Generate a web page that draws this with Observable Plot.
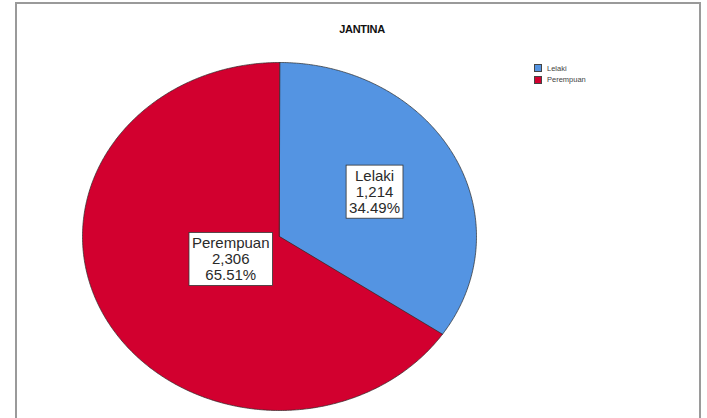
<!DOCTYPE html>
<html>
<head>
<meta charset="utf-8">
<script src="https://cdn.jsdelivr.net/npm/d3@7"></script>
<script src="https://cdn.jsdelivr.net/npm/@observablehq/plot@0.6"></script>
<style>
  html, body { margin: 0; padding: 0; background: #fff; }
  #wrap { position: relative; width: 707px; height: 418px; overflow: hidden; font-family: "Liberation Sans", Arial, sans-serif; }
  #frame { position: absolute; left: 15px; top: 2px; width: 686px; height: 430px; border: 2px solid #9a9a9a; border-bottom: none; box-sizing: border-box; }
  #title { position: absolute; left: 0; width: 724px; top: 23px; text-align: center; font-weight: bold; font-size: 11px; letter-spacing: -0.3px; color: #111; }
  #legend { position: absolute; left: 534px; top: 63px; font-size: 7.5px; color: #444; }
  #legend div { display: flex; align-items: center; height: 10px; margin-bottom: 1.5px; }
  #legend span.sw { display: inline-block; width: 8px; height: 8px; box-sizing: border-box; border: 0.6px solid #444; margin-right: 5px; }
  #chart { position: absolute; left: 0; top: 0; }
</style>
</head>
<body>
<div id="wrap">
  <div id="frame"></div>
  <div id="chart"></div>
  <div id="title"></div>
  <div id="legend"></div>
</div>
<script>
const title = "JANTINA";
const categories = ["Lelaki", "Perempuan"];
const counts = [1214, 2306];
const percents = ["34.49%", "65.51%"];
const colors = ["#5494e2", "#d2002f"];

const pie = d3.pie().sort(null).value(d => d.count);
const arcs = pie(categories.map((c, i) => ({category: c, count: counts[i], pct: percents[i]})));

// slice outlines in unit coordinates (x = sin a, y = cos a; clockwise from top)
const slicePts = [];
for (const a of arcs) {
  const c = a.data.category;
  slicePts.push({category: c, x: 0, y: 0});
  const n = Math.max(2, Math.ceil((a.endAngle - a.startAngle) / (Math.PI / 360)));
  for (let k = 0; k <= n; k++) {
    const t = a.startAngle + (a.endAngle - a.startAngle) * k / n;
    slicePts.push({category: c, x: Math.sin(t), y: Math.cos(t)});
  }
}

// label placement along each slice's mid angle
const labelR = {"Lelaki": 0.546, "Perempuan": 0.28};
const labels = arcs.map(a => {
  const m = (a.startAngle + a.endAngle) / 2;
  const r = labelR[a.data.category];
  return {
    x: r * Math.sin(m), y: r * Math.cos(m),
    text: `${a.data.category}\n${d3.format(",")(a.data.count)}\n${a.data.pct}`
  };
});

const plot = Plot.plot({
  width: 707, height: 418,
  marginLeft: 82, marginRight: 231, marginTop: 62, marginBottom: 8,
  x: {domain: [-1, 1], axis: null},
  y: {domain: [-1, 1], axis: null},
  color: {domain: categories, range: colors},
  style: {background: "transparent", overflow: "visible"},
  marks: [
    Plot.line(slicePts, {x: "x", y: "y", z: "category", fill: "category", stroke: "#2a2a2a", strokeWidth: 0.7, curve: "linear-closed"}),
    Plot.text(labels, {x: "x", y: "y", text: "text", fontSize: 15, lineHeight: 1.07, fill: "#2a2a2a", lineAnchor: "middle", textAnchor: "middle", fontFamily: "Liberation Sans, Arial, sans-serif", className: "pielabel"})
  ]
});
document.getElementById("chart").appendChild(plot);

// white boxes behind the labels
d3.select(plot).selectAll(".pielabel text").each(function() {
  const b = this.getBBox();
  const padX = 3, padY = 2;
  const tr = this.getAttribute("transform");
  const rect = document.createElementNS("http://www.w3.org/2000/svg", "rect");
  rect.setAttribute("x", b.x - padX);
  rect.setAttribute("y", b.y - padY);
  rect.setAttribute("width", b.width + 2 * padX);
  rect.setAttribute("height", b.height + 2 * padY);
  rect.setAttribute("fill", "#fff");
  rect.setAttribute("stroke", "#333");
  rect.setAttribute("stroke-width", "0.8");
  if (tr) rect.setAttribute("transform", tr);
  this.parentNode.insertBefore(rect, this);
});

document.getElementById("title").textContent = title;
const leg = d3.select("#legend");
categories.forEach((c, i) => {
  const row = leg.append("div");
  row.append("span").attr("class", "sw").style("background", colors[i]);
  row.append("span").text(c);
});
</script>
</body>
</html>
